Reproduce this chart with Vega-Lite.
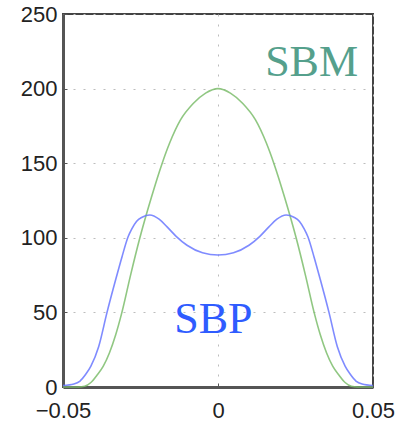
{
  "$schema": "https://vega.github.io/schema/vega-lite/v6.json",
  "width": 310,
  "height": 373,
  "autosize": {"type": "none"},
  "padding": {"left": 63, "top": 14, "right": 24, "bottom": 35},
  "background": "white",
  "config": {
    "view": {"stroke": "#444", "strokeWidth": 2},
    "axis": {
      "grid": true,
      "gridColor": "#bdbdbd",
      "gridDash": [2, 8],
      "gridWidth": 1,
      "domainColor": "#555",
      "domainWidth": 3,
      "tickColor": "#555",
      "tickSize": -4,
      "tickWidth": 1,
      "labelFont": "Liberation Sans",
      "labelFontSize": 22,
      "labelColor": "#222",
      "labelFlush": false,
      "labelOverlap": false,
      "title": null
    }
  },
  "datasets": {
    "curves": [
      {"x": -0.05, "y": 0, "s": "SBM"},
      {"x": -0.045, "y": 0, "s": "SBM"},
      {"x": -0.043, "y": 0.5, "s": "SBM"},
      {"x": -0.041, "y": 3, "s": "SBM"},
      {"x": -0.039, "y": 8, "s": "SBM"},
      {"x": -0.037, "y": 14, "s": "SBM"},
      {"x": -0.035, "y": 23, "s": "SBM"},
      {"x": -0.033, "y": 35, "s": "SBM"},
      {"x": -0.031, "y": 50, "s": "SBM"},
      {"x": -0.0282, "y": 75, "s": "SBM"},
      {"x": -0.0252, "y": 100, "s": "SBM"},
      {"x": -0.0215, "y": 127, "s": "SBM"},
      {"x": -0.018, "y": 150, "s": "SBM"},
      {"x": -0.0156, "y": 163.5, "s": "SBM"},
      {"x": -0.0121, "y": 179, "s": "SBM"},
      {"x": -0.008, "y": 190, "s": "SBM"},
      {"x": -0.004, "y": 197, "s": "SBM"},
      {"x": 0, "y": 200, "s": "SBM"},
      {"x": 0.004, "y": 197, "s": "SBM"},
      {"x": 0.008, "y": 190, "s": "SBM"},
      {"x": 0.0121, "y": 179, "s": "SBM"},
      {"x": 0.0156, "y": 163.5, "s": "SBM"},
      {"x": 0.018, "y": 150, "s": "SBM"},
      {"x": 0.0215, "y": 127, "s": "SBM"},
      {"x": 0.0252, "y": 100, "s": "SBM"},
      {"x": 0.0282, "y": 75, "s": "SBM"},
      {"x": 0.031, "y": 50, "s": "SBM"},
      {"x": 0.033, "y": 35, "s": "SBM"},
      {"x": 0.035, "y": 23, "s": "SBM"},
      {"x": 0.037, "y": 14, "s": "SBM"},
      {"x": 0.039, "y": 8, "s": "SBM"},
      {"x": 0.041, "y": 3, "s": "SBM"},
      {"x": 0.043, "y": 0.5, "s": "SBM"},
      {"x": 0.045, "y": 0, "s": "SBM"},
      {"x": 0.05, "y": 0, "s": "SBM"},
      {"x": -0.05, "y": 1, "s": "SBP"},
      {"x": -0.0465, "y": 2, "s": "SBP"},
      {"x": -0.0445, "y": 4, "s": "SBP"},
      {"x": -0.0425, "y": 9, "s": "SBP"},
      {"x": -0.041, "y": 14, "s": "SBP"},
      {"x": -0.0385, "y": 27, "s": "SBP"},
      {"x": -0.0358, "y": 50, "s": "SBP"},
      {"x": -0.033, "y": 72, "s": "SBP"},
      {"x": -0.031, "y": 87, "s": "SBP"},
      {"x": -0.029, "y": 100.7, "s": "SBP"},
      {"x": -0.0278, "y": 106, "s": "SBP"},
      {"x": -0.0263, "y": 111, "s": "SBP"},
      {"x": -0.0245, "y": 113.8, "s": "SBP"},
      {"x": -0.022, "y": 115.3, "s": "SBP"},
      {"x": -0.019, "y": 112.5, "s": "SBP"},
      {"x": -0.0165, "y": 107.5, "s": "SBP"},
      {"x": -0.0135, "y": 101, "s": "SBP"},
      {"x": -0.01, "y": 95, "s": "SBP"},
      {"x": -0.005, "y": 90, "s": "SBP"},
      {"x": 0, "y": 88.5, "s": "SBP"},
      {"x": 0.005, "y": 90, "s": "SBP"},
      {"x": 0.01, "y": 95, "s": "SBP"},
      {"x": 0.0135, "y": 101, "s": "SBP"},
      {"x": 0.0165, "y": 107.5, "s": "SBP"},
      {"x": 0.019, "y": 112.5, "s": "SBP"},
      {"x": 0.022, "y": 115.3, "s": "SBP"},
      {"x": 0.0245, "y": 113.8, "s": "SBP"},
      {"x": 0.0263, "y": 111, "s": "SBP"},
      {"x": 0.0278, "y": 106, "s": "SBP"},
      {"x": 0.029, "y": 100.7, "s": "SBP"},
      {"x": 0.031, "y": 87, "s": "SBP"},
      {"x": 0.033, "y": 72, "s": "SBP"},
      {"x": 0.0358, "y": 50, "s": "SBP"},
      {"x": 0.0385, "y": 27, "s": "SBP"},
      {"x": 0.041, "y": 14, "s": "SBP"},
      {"x": 0.0425, "y": 9, "s": "SBP"},
      {"x": 0.0445, "y": 4, "s": "SBP"},
      {"x": 0.0465, "y": 2, "s": "SBP"},
      {"x": 0.05, "y": 1, "s": "SBP"}
    ],
    "labels": [
      {"x": 0.0302, "y": 208.4, "s": "SBM"},
      {"x": -0.0015, "y": 36.2, "s": "SBP"}
    ]
  },
  "layer": [
    {
      "data": {"name": "curves"},
      "mark": {"type": "line", "interpolate": "monotone", "strokeWidth": 1.6, "opacity": 0.85},
      "encoding": {
        "x": {
          "field": "x", "type": "quantitative",
          "scale": {"domain": [-0.05, 0.05], "nice": false},
          "axis": {"values": [-0.05, 0, 0.05], "format": "~g", "labelPadding": 17}
        },
        "y": {
          "field": "y", "type": "quantitative",
          "scale": {"domain": [0, 250], "nice": false},
          "axis": {"values": [0, 50, 100, 150, 200, 250], "labelPadding": 10}
        },
        "color": {
          "field": "s", "type": "nominal",
          "scale": {"domain": ["SBM", "SBP"], "range": ["#7dbd6c", "#6877ff"]},
          "legend": null
        }
      }
    },
    {
      "data": {"name": "labels"},
      "mark": {"type": "text", "font": "Liberation Serif", "fontSize": 44, "align": "center", "baseline": "alphabetic"},
      "encoding": {
        "x": {"field": "x", "type": "quantitative"},
        "y": {"field": "y", "type": "quantitative"},
        "text": {"field": "s"},
        "color": {
          "field": "s", "type": "nominal",
          "scale": {"domain": ["SBM", "SBP"], "range": ["#55a08c", "#2f5cff"]},
          "legend": null
        }
      }
    }
  ],
  "resolve": {"scale": {"color": "independent"}}
}
